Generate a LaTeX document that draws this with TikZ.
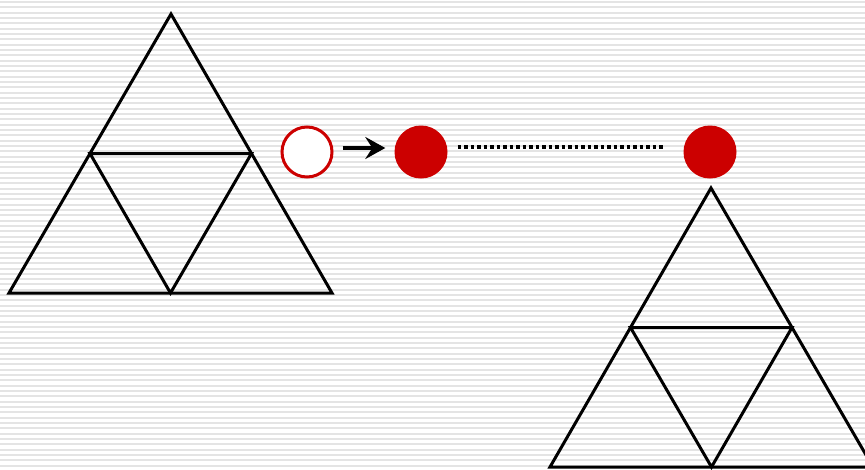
\documentclass[tikz,border=0pt]{standalone}
\usetikzlibrary{arrows.meta,calc}
\definecolor{dotred}{HTML}{CC0000}
\definecolor{stripe}{HTML}{E4E4E4}

\begin{document}
\begin{tikzpicture}[x=1pt, y=-1pt,
  tri/.style={draw=black, line width=3pt, line join=miter},
  dot/.style={circle, minimum size=53pt, inner sep=0pt, fill=dotred},
  hollow/.style={circle, minimum size=50pt, inner sep=0pt, draw=dotred, line width=3pt, fill=white},
  arr/.style={line width=4pt, -{Stealth[length=20pt, width=22pt, inset=7pt]}, shorten <=9pt, shorten >=9pt},
  chain/.style={line width=3.5pt, dash pattern=on 3.5pt off 3pt, shorten <=10pt, shorten >=18pt}
]
\useasboundingbox (0,0) rectangle (865,469);
% striped background
\foreach \i in {0,...,88}
  \fill[stripe] (0,\i*5.33+1) rectangle (865,\i*5.33+3);

% left triangle
\coordinate (ltop) at (171,14);
\coordinate (lleft) at (9,293);
\coordinate (lright) at (332,293);
\draw[tri] (ltop) -- (lleft) -- (lright) -- cycle;
\draw[tri] ($(ltop)!0.5!(lleft)$) -- ($(ltop)!0.5!(lright)$) -- ($(lleft)!0.5!(lright)$) -- cycle;

% right triangle
\coordinate (rtop) at (711,188);
\coordinate (rleft) at (550,467);
\coordinate (rright) at (873,467);
\draw[tri] (rtop) -- (rleft) -- (rright) -- cycle;
\draw[tri] ($(rtop)!0.5!(rleft)$) -- ($(rtop)!0.5!(rright)$) -- ($(rleft)!0.5!(rright)$) -- cycle;

\node[hollow] (empty) at (307,152) {};
\node[dot] (first) at (421,152) {};
\node[dot] (last) at (710,152) {};

\draw[arr] ([yshift=4pt]empty.east) -- ([yshift=4pt]first.west);
\draw[chain] ([yshift=5pt]first.east) -- ([yshift=5pt]last.west);
\end{tikzpicture}
\end{document}
